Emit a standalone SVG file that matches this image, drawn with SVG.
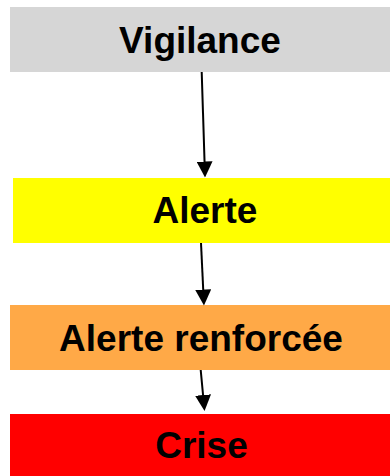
<svg xmlns="http://www.w3.org/2000/svg" width="390" height="476" viewBox="0 0 390 476">
<style>
.lbl{font-family:"Liberation Sans",Arial,sans-serif;font-weight:bold;font-size:37px;fill:#000;text-anchor:middle}
.conn{stroke:#000;stroke-width:2;fill:none;marker-end:url(#ah)}
</style>
<defs>
<marker id="ah" markerUnits="userSpaceOnUse" markerWidth="16" markerHeight="16" refX="8" refY="8" orient="auto" viewBox="0 0 16 16">
<path d="M0,0 L16,8 L0,16 z" fill="#000"/>
</marker>
</defs>
<rect width="390" height="476" fill="#fff"/>
<g id="vigilance">
<rect x="10" y="7" width="380" height="65" fill="#D6D6D6"/>
<text class="lbl" x="200" y="52.5">Vigilance</text>
</g>
<g id="alerte">
<rect x="13" y="178" width="377" height="65" fill="#FFFF00"/>
<text class="lbl" x="205" y="223.3">Alerte</text>
</g>
<g id="alerte-renforcee">
<rect x="10" y="305" width="380" height="65" fill="#FFA947"/>
<text class="lbl" x="201" y="350.7">Alerte renforcée</text>
</g>
<g id="crise">
<rect x="10" y="414" width="380" height="62" fill="#FF0000"/>
<text class="lbl" x="201.5" y="458.3">Crise</text>
</g>
<g id="connectors">
<line class="conn" x1="201.7" y1="72" x2="204.8" y2="169.5"/>
<line class="conn" x1="201" y1="243" x2="203.6" y2="297.5"/>
<line class="conn" x1="200.7" y1="370" x2="203.8" y2="403"/>
</g>
</svg>
